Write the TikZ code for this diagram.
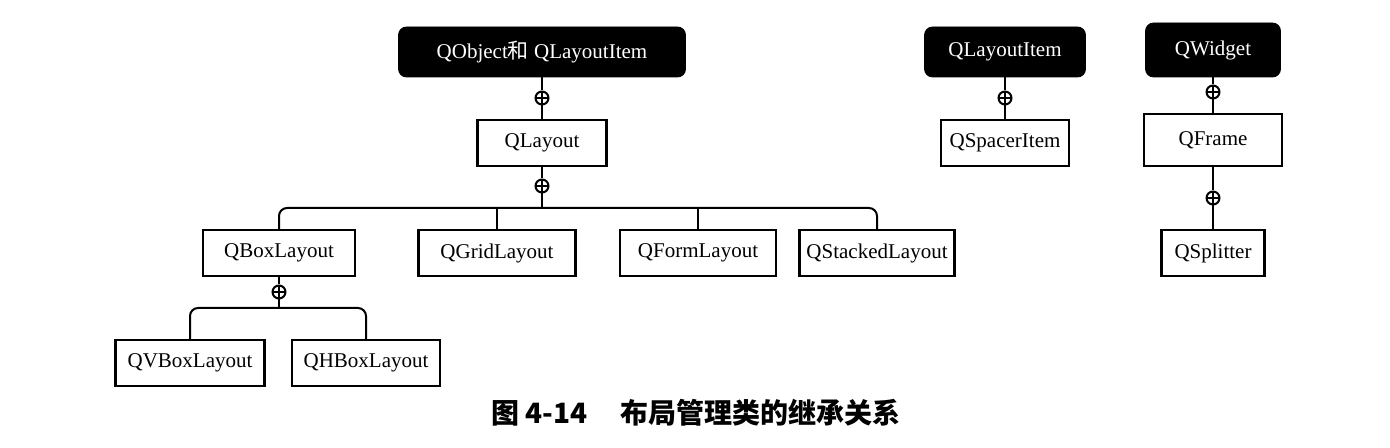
\documentclass[tikz,border=0pt]{standalone}
\usepackage{fontspec}
\setmainfont{Liberation Serif}
\newfontfamily\cjk{Noto Sans CJK SC}
\begin{document}
\begin{tikzpicture}[x=0.5pt,y=-0.5pt,
  cls/.style={draw=black,line width=1.1pt,fill=white,minimum height=23pt,inner sep=2pt,font=\fontsize{10.5pt}{12pt}\selectfont},
  base/.style={draw=black,fill=black,text=white,rounded corners=4pt,minimum height=25pt,font=\fontsize{10.5pt}{12pt}\selectfont},
  plus/.style={circle,draw=black,line width=1pt,fill=white,minimum size=6.5pt,inner sep=0pt,
    path picture={\draw[line width=0.8pt] (path picture bounding box.north) -- (path picture bounding box.south)
      (path picture bounding box.west) -- (path picture bounding box.east);}},
  conn/.style={draw=black,line width=1pt}]
\useasboundingbox (0,0) rectangle (1390,448);
% left tree
\node[base,minimum width=143.5pt] (qobj) at (542,52) {QObject{\cjk 和} QLayoutItem};
\node[plus] (p1) at (542,98) {};
\node[cls,minimum width=64.5pt] (qlayout) at (542,143) {QLayout};
\node[plus] (p2) at (542,186) {};
\node[cls,minimum width=76pt] (qbox) at (279,253) {QBoxLayout};
\node[cls,minimum width=78.5pt] (qgrid) at (497,253) {QGridLayout};
\node[cls,minimum width=78pt] (qform) at (698,253) {QFormLayout};
\node[cls,minimum width=77.5pt] (qstack) at (877,253) {QStackedLayout};
\node[plus] (p3) at (279,292) {};
\node[cls,minimum width=74.5pt] (qvbox) at (190,363) {QVBoxLayout};
\node[cls,minimum width=74pt] (qhbox) at (366,363) {QHBoxLayout};
\coordinate (bus1) at (542,208);
\coordinate (bus2) at (279,308);
\draw[conn] (qobj) -- (p1) -- (qlayout) -- (p2) -- (bus1);
\draw[conn,rounded corners=4pt] (qbox.north) |- (bus1) -| (qstack.north);
\draw[conn] (bus1 -| qgrid.north) -- (qgrid.north);
\draw[conn] (bus1 -| qform.north) -- (qform.north);
\draw[conn] (qbox) -- (p3) -- (bus2);
\draw[conn,rounded corners=4pt] (qvbox.north) |- (bus2) -| (qhbox.north);
% middle tree
\node[base,minimum width=80.5pt] (qli) at (1005,52) {QLayoutItem};
\node[plus] (p4) at (1005,98) {};
\node[cls,minimum width=64pt] (qspacer) at (1005,143) {QSpacerItem};
\draw[conn] (qli) -- (p4) -- (qspacer);
% right tree
\node[base,minimum width=67.5pt,minimum height=27pt] (qwidget) at (1213,50) {QWidget};
\node[plus] (p5) at (1213,92) {};
\node[cls,minimum width=69pt,minimum height=26pt] (qframe) at (1213,140) {QFrame};
\node[plus] (p6) at (1213,198) {};
\node[cls,minimum width=51.5pt] (qsplit) at (1213,253) {QSplitter};
\draw[conn] (qwidget) -- (p5) -- (qframe) -- (p6) -- (qsplit);
% caption
\node[font=\cjk\bfseries\fontsize{14pt}{16pt}\selectfont] (cap) at (696,413) {图 4-14\hspace{1.2em}布局管理类的继承关系};
\end{tikzpicture}
\end{document}
